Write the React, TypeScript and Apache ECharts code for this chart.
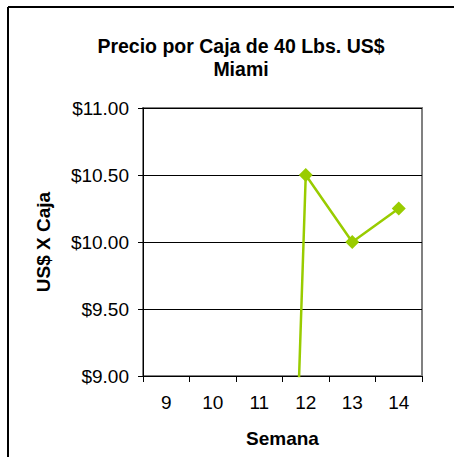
import React, { useEffect, useRef } from "react";
import * as echarts from "echarts";

const weeks = ["9", "10", "11", "12", "13", "14"];
const prices = [0, 0, 0, 10.5, 10.0, 10.25];
const titleText = "Precio por Caja de 40 Lbs. US$\nMiami";
const yName = "US$ X Caja";
const xName = "Semana";

export default function App() {
  const ref = useRef<HTMLDivElement>(null);
  useEffect(() => {
    const chart = echarts.init(ref.current!, null, { renderer: "svg" });
    const font = "Liberation Sans, Arial, sans-serif";
    chart.setOption({
      animation: false,
      backgroundColor: "#ffffff",
      textStyle: { fontFamily: font },
      title: {
        text: titleText,
        left: 236,
        top: 29,
        textAlign: "center",
        textStyle: { fontSize: 19.5, fontWeight: "bold", color: "#000", lineHeight: 23, fontFamily: font },
      },
      graphic: [
        { type: "line", shape: { x1: 8, y1: 7, x2: 454, y2: 7 }, style: { stroke: "#000", lineWidth: 2 } },
        { type: "line", shape: { x1: 8, y1: 7, x2: 8, y2: 457 }, style: { stroke: "#000", lineWidth: 2 } },
      ],
      grid: {
        left: 143,
        top: 108,
        right: 32,
        bottom: 81,
        show: true,
        borderColor: "#808080",
        borderWidth: 2,
        backgroundColor: "transparent",
        outerBoundsMode: "none",
        containLabel: false,
      },
      xAxis: {
        type: "category",
        data: weeks,
        boundaryGap: true,
        name: xName,
        nameLocation: "middle",
        nameGap: 53,
        nameTextStyle: { fontSize: 19, fontWeight: "bold", color: "#000", fontFamily: font },
        axisLine: { show: true, lineStyle: { color: "#000", width: 1 } },
        axisTick: { show: true, inside: false, length: 6, lineStyle: { color: "#000" } },
        axisLabel: { fontSize: 19, color: "#000", margin: 17, fontFamily: font },
        splitLine: { show: false },
      },
      yAxis: {
        type: "value",
        min: 9,
        max: 11,
        interval: 0.5,
        name: yName,
        nameLocation: "middle",
        nameGap: 90,
        nameTextStyle: { fontSize: 19, fontWeight: "bold", color: "#000", fontFamily: font },
        axisLine: { show: true, lineStyle: { color: "#000", width: 1 } },
        axisTick: { show: true, inside: false, length: 5, lineStyle: { color: "#000" } },
        axisLabel: {
          fontSize: 19,
          color: "#000",
          margin: 14,
          fontFamily: font,
          formatter: (v: number) => "$" + v.toFixed(2),
        },
        splitLine: { show: true, lineStyle: { color: "#000", width: 1 } },
      },
      series: [
        {
          type: "line",
          data: prices,
          clip: true,
          symbol: "diamond",
          symbolSize: 14,
          showSymbol: true,
          itemStyle: { color: "#99cc00" },
          lineStyle: { color: "#99cc00", width: 2.5 },
        },
      ],
    });
    return () => chart.dispose();
  }, []);
  return (
    <div
      ref={ref}
      style={{ position: "fixed", left: 0, top: 0, width: 454, height: 457 }}
    />
  );
}
